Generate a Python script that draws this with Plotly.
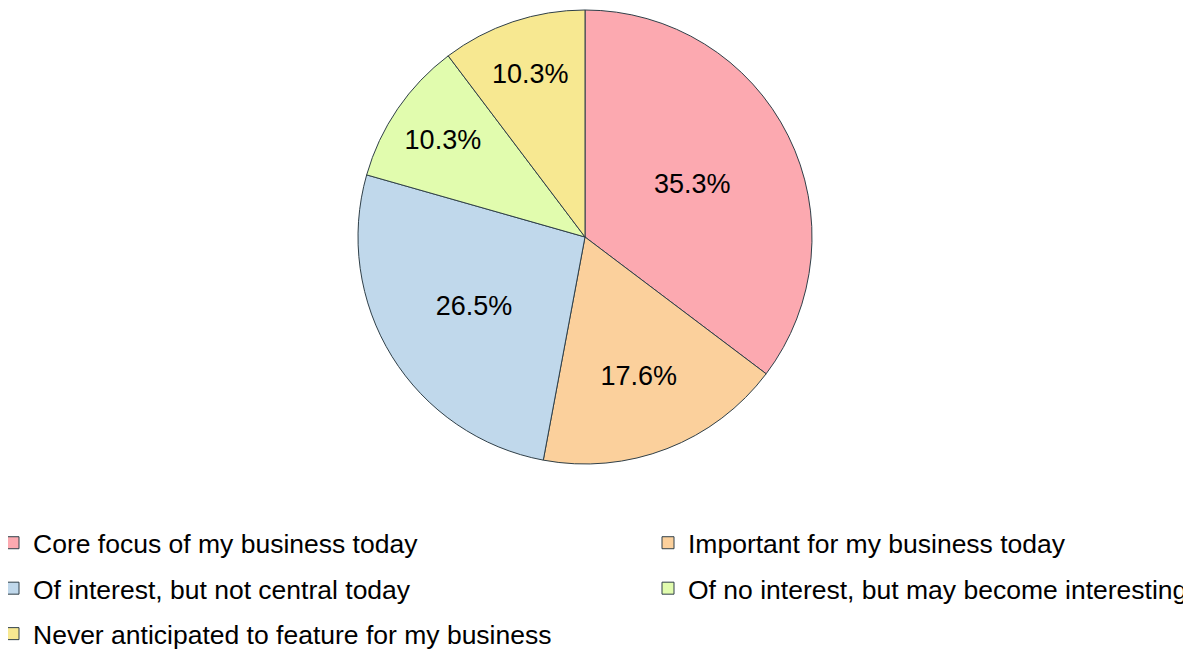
import plotly.graph_objects as go

labels = [
    "Core focus of my business today",
    "Important for my business today",
    "Of interest, but not central today",
    "Of no interest, but may become interesting",
    "Never anticipated to feature for my business",
]
values = [24, 12, 18, 7, 7]
colors = ["#FCA9B0", "#FBD09C", "#C0D8EB", "#E1FCAE", "#F7E891"]
legend_column = ["legend", "legend2", "legend", "legend2", "legend"]

W, H = 1191, 650
cx, cy, r = 577, 229, 227
edge = "#2F3F48"
FONT = "Liberation Sans, Arial, sans-serif"

fig = go.Figure()
fig.add_trace(go.Pie(
    labels=labels,
    values=values,
    sort=False,
    direction="clockwise",
    rotation=0,
    marker=dict(colors=colors, line=dict(color=edge, width=1)),
    textinfo="percent",
    texttemplate="%{percent:.1%}",
    textposition="inside",
    insidetextorientation="horizontal",
    textfont=dict(family=FONT, size=27, color="#000000"),
    domain=dict(x=[(cx - r) / W, (cx + r) / W], y=[(H - cy - r) / H, (H - cy + r) / H]),
    hoverinfo="label+percent",
    showlegend=False,
))

# legend entries (two columns), built from the same labels / colours
for lab, col, lg in zip(labels, colors, legend_column):
    fig.add_trace(go.Bar(
        x=[None], y=[None], name=lab, legend=lg, legendgroup=lab,
        marker=dict(color=col, line=dict(color=edge, width=1)),
        showlegend=True, hoverinfo="skip",
    ))

legend_common = dict(
    orientation="v",
    xanchor="left",
    yanchor="top",
    y=(H - 511) / H,
    font=dict(family=FONT, size=26.5, color="#000000"),
    traceorder="grouped",
    tracegroupgap=8,
    bgcolor="rgba(0,0,0,0)",
    itemclick=False,
)

fig.update_layout(
    width=W, height=H,
    margin=dict(l=0, r=0, t=0, b=0, autoexpand=False),
    paper_bgcolor="white",
    plot_bgcolor="white",
    showlegend=True,
    xaxis=dict(visible=False),
    yaxis=dict(visible=False),
    legend=dict(x=-15 / W, **legend_common),
    legend2=dict(x=640 / W, **legend_common),
    font=dict(family=FONT),
)

fig.write_html("out.html")
